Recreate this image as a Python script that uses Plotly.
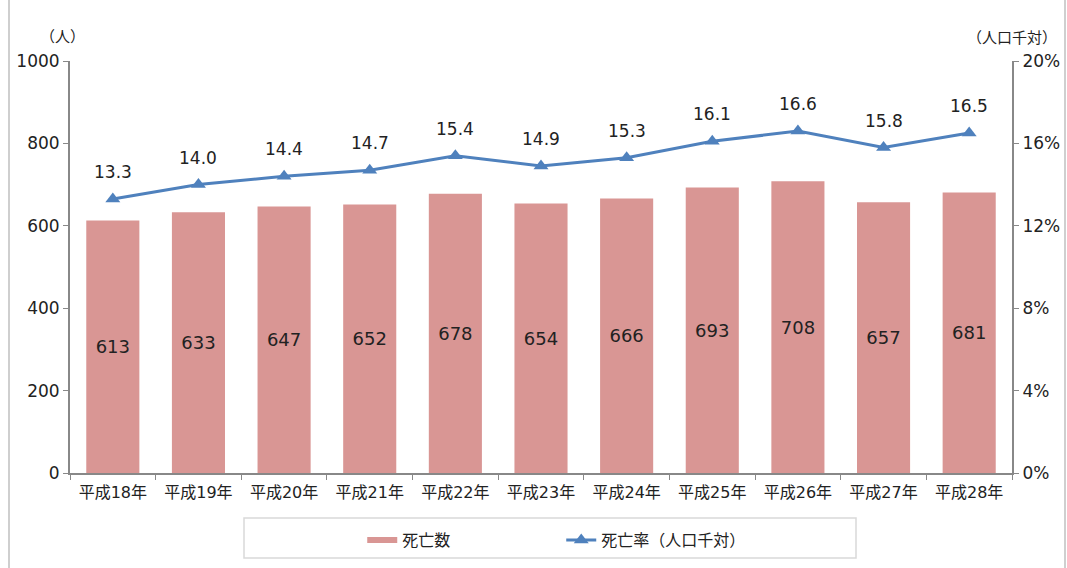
import plotly.graph_objects as go

# 年次別の死亡数と死亡率（人口千対）
years = ["平成18年", "平成19年", "平成20年", "平成21年", "平成22年", "平成23年",
         "平成24年", "平成25年", "平成26年", "平成27年", "平成28年"]
deaths = [613, 633, 647, 652, 678, 654, 666, 693, 708, 657, 681]
rates = [13.3, 14.0, 14.4, 14.7, 15.4, 14.9, 15.3, 16.1, 16.6, 15.8, 16.5]

left_ticks = [0, 200, 400, 600, 800, 1000]
right_ticks = [0, 4, 8, 12, 16, 20]

FONT = "DejaVu Sans, Noto Sans CJK JP"
BAR_COLOR = "#D99694"
LINE_COLOR = "#4F81BD"
AXIS_COLOR = "#888888"
TEXT_COLOR = "#222222"

W, H = 1067, 568
ML, MR, MT, MB = 70, 55, 61, 95

fig = go.Figure()

fig.add_trace(go.Bar(
    x=years, y=deaths, name="死亡数", showlegend=False,
    marker=dict(color=BAR_COLOR, line=dict(width=0)),
    text=[str(v) for v in deaths], textposition="inside",
    insidetextanchor="middle",
    textfont=dict(family=FONT, size=18, color=TEXT_COLOR),
    yaxis="y",
))

# legend entry for the bars, drawn as a short thick bar-coloured stroke
fig.add_trace(go.Scatter(
    x=[None], y=[None], name="死亡数", mode="lines",
    line=dict(color=BAR_COLOR, width=6), yaxis="y",
))

fig.add_trace(go.Scatter(
    x=years, y=rates, name="死亡率（人口千対）",
    mode="lines+markers",
    line=dict(color=LINE_COLOR, width=3),
    marker=dict(symbol="triangle-up", size=13, color=LINE_COLOR),
    yaxis="y2",
))

# rate labels above each marker
for yr, r in zip(years, rates):
    fig.add_annotation(
        x=yr, y=r, xref="x", yref="y2", text=f"{r:.1f}",
        showarrow=False, yshift=27, yanchor="middle",
        font=dict(family=FONT, size=17, color=TEXT_COLOR),
    )

axis_common = dict(
    showgrid=False, zeroline=False, showline=True,
    linecolor=AXIS_COLOR, linewidth=2,
    ticks="outside", ticklen=5, tickcolor=AXIS_COLOR, tickwidth=1,
    tickfont=dict(family=FONT, size=17, color=TEXT_COLOR),
)

fig.update_layout(
    width=W, height=H,
    margin=dict(l=ML, r=MR, t=MT, b=MB, autoexpand=False),
    paper_bgcolor="white", plot_bgcolor="white",
    font=dict(family=FONT, color=TEXT_COLOR),
    bargap=0.38,
    showlegend=True,
    xaxis=dict(
        range=[-0.5, len(years) - 0.5],
        showgrid=False, zeroline=False, showline=True,
        linecolor=AXIS_COLOR, linewidth=2,
        ticks="outside", ticklen=5, tickcolor=AXIS_COLOR,
        tickson="boundaries", ticklabelstandoff=4,
        tickfont=dict(family=FONT, size=16, color=TEXT_COLOR),
    ),
    yaxis=dict(range=[0, 1000], tickvals=left_ticks,
               ticktext=[str(v) for v in left_ticks], **axis_common),
    yaxis2=dict(range=[0, 20], tickvals=right_ticks,
                ticktext=[f"{v}%" for v in right_ticks],
                overlaying="y", side="right", **axis_common),
    legend=dict(
        orientation="h", xref="container", yref="container",
        x=0.526, xanchor="center",
        y=(H - 540) / H, yanchor="middle",
        font=dict(family=FONT, size=16, color=TEXT_COLOR),
        entrywidth=154, itemwidth=30, tracegroupgap=0,
        bgcolor="rgba(0,0,0,0)",
    ),
)

pw = W - ML - MR
ph = H - MT - MB

def px(xpix):
    return (xpix - ML) / pw

def py(ypix):
    return (H - MB - ypix) / ph

shapes = [
    # legend frame
    dict(type="rect", xref="paper", yref="paper",
         x0=px(244), x1=px(856), y0=py(558), y1=py(518),
         line=dict(color="#D9D9D9", width=1.5), layer="below"),
    # outer frame sides
    dict(type="line", xref="paper", yref="paper",
         x0=px(9), x1=px(9), y0=py(0), y1=py(568),
         line=dict(color="#BFBFBF", width=1.5)),
    dict(type="line", xref="paper", yref="paper",
         x0=px(1065), x1=px(1065), y0=py(0), y1=py(568),
         line=dict(color="#BFBFBF", width=1.5)),
]
fig.update_layout(shapes=shapes)

fig.add_annotation(text="（人）", xref="paper", yref="paper",
                   x=px(62), y=py(37), xanchor="center", yanchor="middle",
                   showarrow=False, font=dict(family=FONT, size=15, color=TEXT_COLOR))
fig.add_annotation(text="（人口千対）", xref="paper", yref="paper",
                   x=px(1012), y=py(38), xanchor="center", yanchor="middle",
                   showarrow=False, font=dict(family=FONT, size=15, color=TEXT_COLOR))

fig.write_html("out.html")
